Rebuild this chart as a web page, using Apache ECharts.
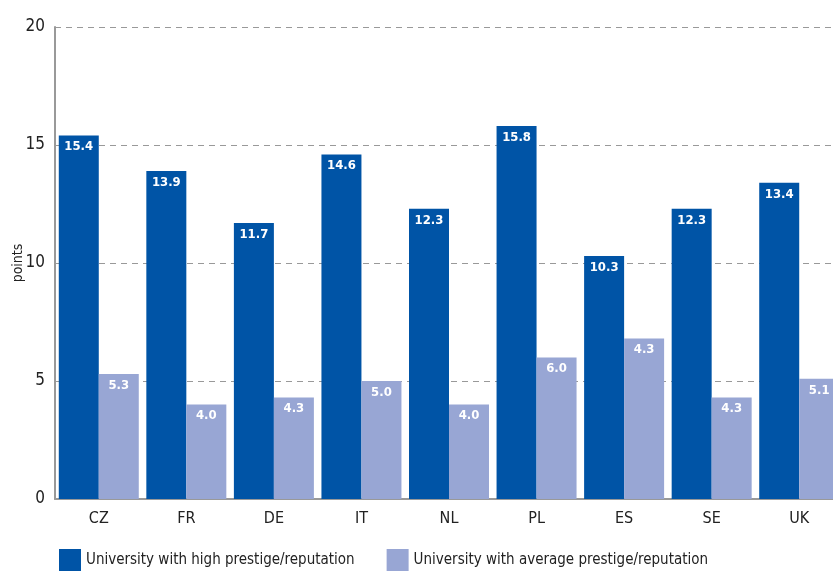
<!DOCTYPE html>
<html>
<head>
<meta charset="utf-8">
<script src="https://cdn.jsdelivr.net/npm/echarts@6/dist/echarts.min.js"></script>
<style>
  html, body { margin: 0; padding: 0; background: #fff; }
  #chart { width: 833px; height: 571px; }
</style>
</head>
<body>
<div id="chart"></div>
<script>
  // categories and values
  var countries = ['CZ', 'FR', 'DE', 'IT', 'NL', 'PL', 'ES', 'SE', 'UK'];
  var highPrestige = [15.4, 13.9, 11.7, 14.6, 12.3, 15.8, 10.3, 12.3, 13.4];
  var avgPrestige = [5.3, 4.0, 4.3, 5.0, 4.0, 6.0, 6.8, 4.3, 5.1];   // bar heights as drawn
  var avgLabels = ['5.3', '4.0', '4.3', '5.0', '4.0', '6.0', '4.3', '4.3', '5.1']; // printed labels
  var yTicks = [0, 5, 10, 15, 20];

  var font = '"DejaVu Sans Condensed", "Liberation Sans Narrow", sans-serif';
  var chart = echarts.init(document.getElementById('chart'));

  var option = {
    animation: false,
    textStyle: { fontFamily: font },
    // plot runs past the right edge of the picture, like the original
    grid: { left: 55, top: 27, width: 788, height: 472, outerBoundsMode: 'none', containLabel: false },
    legend: {
      left: 54, top: 544,
      itemWidth: 22, itemHeight: 22, itemGap: 32,
      icon: 'rect',
      textStyle: { fontFamily: font, fontSize: 15, color: '#222' },
      data: ['University with high prestige/reputation', 'University with average prestige/reputation']
    },
    xAxis: {
      type: 'category',
      data: countries,
      axisLine: { lineStyle: { color: '#999', width: 2 } },
      axisTick: { show: false },
      axisLabel: { fontFamily: font, fontSize: 16, color: '#222', margin: 12 }
    },
    yAxis: {
      type: 'value',
      min: yTicks[0], max: yTicks[yTicks.length - 1], interval: 5,
      name: 'points', nameLocation: 'middle', nameGap: 30, nameRotate: 90,
      nameMoveOverlap: false,
      nameTextStyle: { fontFamily: font, fontSize: 14, color: '#222' },
      axisLine: { show: true, lineStyle: { color: '#999', width: 2 } },
      axisTick: { show: false },
      axisLabel: { fontFamily: font, fontSize: 17, color: '#222', margin: 10 },
      splitLine: { lineStyle: { color: '#999', type: [6, 5], width: 1.2 } }
    },
    series: [
      {
        name: 'University with high prestige/reputation',
        type: 'bar',
        data: highPrestige,
        barGap: '0%',
        barWidth: 40,
        itemStyle: { color: '#0054A6' },
        label: {
          show: true, position: 'insideTop', distance: 5,
          color: '#fff', fontFamily: font, fontSize: 13, fontWeight: 'bold',
          formatter: function (p) { return p.value.toFixed(1); }
        }
      },
      {
        name: 'University with average prestige/reputation',
        type: 'bar',
        data: avgPrestige,
        barWidth: 40,
        itemStyle: { color: '#98A6D4' },
        label: {
          show: true, position: 'insideTop', distance: 5,
          color: '#fff', fontFamily: font, fontSize: 13, fontWeight: 'bold',
          formatter: function (p) { return avgLabels[p.dataIndex]; }
        }
      }
    ]
  };

  chart.setOption(option);
</script>
</body>
</html>
